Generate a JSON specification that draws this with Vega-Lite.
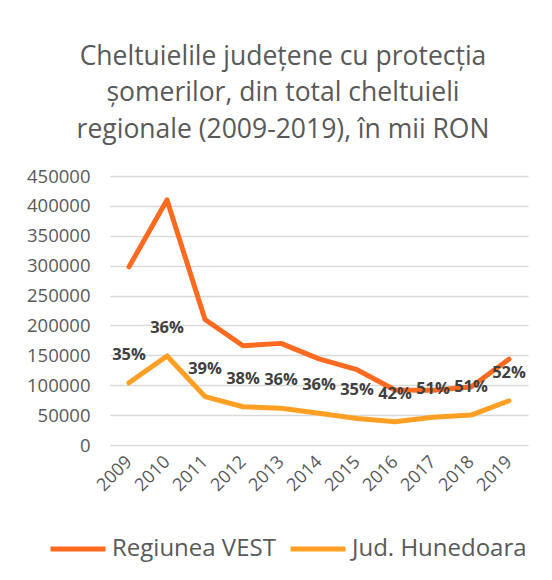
{
  "$schema": "https://vega.github.io/schema/vega-lite/v6.json",
  "autosize": {"type": "none"},
  "width": 418,
  "height": 269,
  "padding": {"left": 110, "top": 176, "right": 24, "bottom": 135},
  "background": "white",
  "title": {
    "text": ["Cheltuielile județene cu protecția", "șomerilor, din total cheltuieli", "regionale (2009-2019), în mii RON"],
    "anchor": "middle",
    "frame": "group",
    "dx": -36,
    "offset": 24,
    "font": "Open Sans",
    "fontSize": 26.5,
    "fontWeight": "normal",
    "color": "#595959",
    "lineHeight": 36.5
  },
  "config": {
    "view": {"stroke": null},
    "font": "Open Sans"
  },
  "data": {
    "values": [
      {"year": "2009", "series": "Regiunea VEST", "value": 298000},
      {"year": "2010", "series": "Regiunea VEST", "value": 410000},
      {"year": "2011", "series": "Regiunea VEST", "value": 210000},
      {"year": "2012", "series": "Regiunea VEST", "value": 166000},
      {"year": "2013", "series": "Regiunea VEST", "value": 170000},
      {"year": "2014", "series": "Regiunea VEST", "value": 144000},
      {"year": "2015", "series": "Regiunea VEST", "value": 126000},
      {"year": "2016", "series": "Regiunea VEST", "value": 92000},
      {"year": "2017", "series": "Regiunea VEST", "value": 91500},
      {"year": "2018", "series": "Regiunea VEST", "value": 97000},
      {"year": "2019", "series": "Regiunea VEST", "value": 143500},
      {"year": "2009", "series": "Jud. Hunedoara", "value": 104000, "pct": "35%"},
      {"year": "2010", "series": "Jud. Hunedoara", "value": 149000, "pct": "36%"},
      {"year": "2011", "series": "Jud. Hunedoara", "value": 81000, "pct": "39%"},
      {"year": "2012", "series": "Jud. Hunedoara", "value": 64000, "pct": "38%"},
      {"year": "2013", "series": "Jud. Hunedoara", "value": 61500, "pct": "36%"},
      {"year": "2014", "series": "Jud. Hunedoara", "value": 53000, "pct": "36%"},
      {"year": "2015", "series": "Jud. Hunedoara", "value": 44500, "pct": "35%"},
      {"year": "2016", "series": "Jud. Hunedoara", "value": 39000, "pct": "42%"},
      {"year": "2017", "series": "Jud. Hunedoara", "value": 46500, "pct": "51%"},
      {"year": "2018", "series": "Jud. Hunedoara", "value": 50000, "pct": "51%"},
      {"year": "2019", "series": "Jud. Hunedoara", "value": 74000, "pct": "52%"}
    ]
  },
  "encoding": {
    "x": {
      "field": "year",
      "type": "ordinal",
      "scale": {"type": "point", "padding": 0.5},
      "axis": {
        "title": null,
        "domain": false,
        "ticks": false,
        "grid": false,
        "labelAngle": -45,
        "labelAlign": "right",
        "labelBaseline": "middle",
        "labelPadding": 14,
        "labelFont": "Open Sans",
        "labelFontSize": 18,
        "labelColor": "#595959"
      }
    },
    "y": {
      "field": "value",
      "type": "quantitative",
      "scale": {"domain": [0, 450000], "nice": false},
      "axis": {
        "title": null,
        "domain": false,
        "ticks": false,
        "values": [0, 50000, 100000, 150000, 200000, 250000, 300000, 350000, 400000, 450000],
        "format": "d",
        "labelPadding": 20,
        "labelFont": "Open Sans",
        "labelFontSize": 18.5,
        "labelColor": "#595959",
        "gridColor": "#d9d9d9",
        "gridWidth": 1.5
      }
    }
  },
  "layer": [
    {
      "mark": {"type": "line", "strokeWidth": 5, "strokeCap": "round", "strokeJoin": "round"},
      "encoding": {
        "color": {
          "field": "series",
          "type": "nominal",
          "scale": {"domain": ["Regiunea VEST", "Jud. Hunedoara"], "range": ["#FF6A21", "#FFA025"]},
          "legend": {
            "title": null,
            "orient": "none",
            "direction": "horizontal",
            "legendX": -62,
            "legendY": 343,
            "symbolType": "stroke",
            "symbolSize": 3025,
            "symbolStrokeWidth": 5,
            "labelFont": "Open Sans",
            "labelFontSize": 24,
            "labelColor": "#595959",
            "labelOffset": 4,
            "columnPadding": 4,
            "labelLimit": 300
          }
        }
      }
    },
    {
      "transform": [{"filter": "datum.series === 'Jud. Hunedoara'"}],
      "mark": {"type": "text", "dy": -28, "font": "Open Sans", "fontSize": 16.5, "fontWeight": "bold", "color": "#404040"},
      "encoding": {
        "text": {"field": "pct", "type": "nominal"}
      }
    }
  ]
}
